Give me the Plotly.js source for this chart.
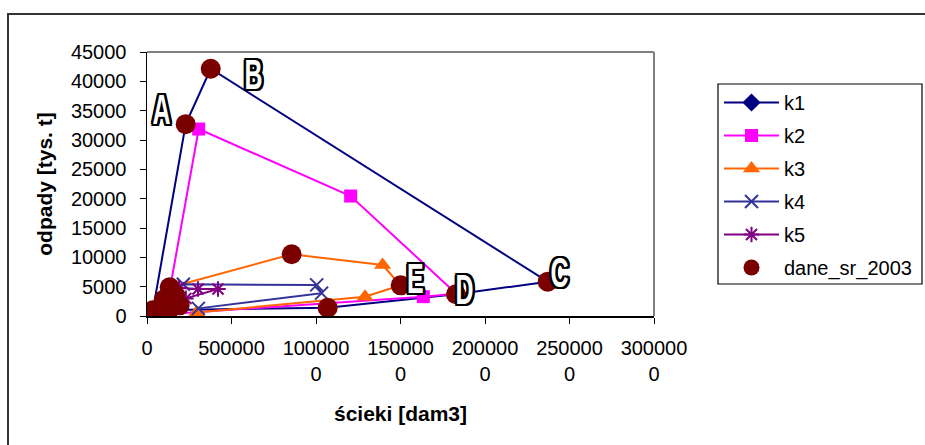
<!DOCTYPE html>
<html>
<head>
<meta charset="utf-8">
<script src="https://cdn.plot.ly/plotly-3.0.1.min.js"></script>
<style>
html,body{margin:0;padding:0;background:#fff;overflow:hidden;}
#chart{width:925px;height:445px;}
</style>
</head>
<body>
<div id="chart"></div>
<script>
// ---- data ----
const xTickVals = [0, 500000, 1000000, 1500000, 2000000, 2500000, 3000000];
const xTickText = ["0", "500000", "100000<br>0", "150000<br>0", "200000<br>0", "250000<br>0", "300000<br>0"];

const k1X = [35000, 229000, 377000, 2371000, 1828000, 1069000, 35000];
const k1Y = [970, 32700, 42150, 5850, 3700, 1400, 970];

const k2X = [110000, 306000, 1205000, 1830000, 1635000, 110000];
const k2Y = [500, 31870, 20450, 3800, 3300, 300];

const k3X = [150000, 856000, 1394000, 1501000, 1290000, 294000];
const k3Y = [5000, 10520, 8690, 5230, 3290, 600];

const k4X = [130000, 215000, 1004000, 1033000, 304000];
const k4Y = [4600, 5400, 5300, 3900, 1300];

const k5X = [190000, 302000, 420000, 230000];
const k5Y = [4800, 4600, 4600, 3000];

const daneX = [229000, 377000, 2371000, 1828000, 1501000, 856000, 1069000, 134000, 35000, 193000, 95000, 77000, 166000, 123000, 100000];
const daneY = [32700, 42150, 5850, 3700, 5230, 10520, 1400, 4900, 970, 1820, 1900, 700, 3600, 700, 2800];

const labelText = ["A", "B", "C", "D", "E"];
const labelX = [85800, 630000, 2443700, 1881600, 1585800];
const labelY = [35370, 41250, 7500, 4520, 6430];

// ---- traces ----
const FONT = "Liberation Sans, Arial, sans-serif";
function line(name, x, y, color, symbol, size, open) {
  const marker = {symbol: symbol, size: size, color: color};
  if (open) marker.line = {color: color, width: 2};
  return {type: "scatter", mode: "lines+markers", name: name, x: x, y: y,
          line: {color: color, width: 2}, marker: marker, legendgroup: name, cliponaxis: true};
}
const traces = [
  line("k1", k1X, k1Y, "#000080", "diamond", 14, false),
  line("k2", k2X, k2Y, "#FF00FF", "square", 13, false),
  line("k3", k3X, k3Y, "#FF6600", "triangle-up", 15, false),
  line("k4", k4X, k4Y, "#333399", "x-thin-open", 13, true),
  line("k5", k5X, k5Y, "#800080", "asterisk-open", 13, true),
  {type: "scatter", mode: "markers", name: "dane_sr_2003", x: daneX, y: daneY, legendgroup: "dane",
   marker: {symbol: "circle", size: 20, color: "#7A0000"}}
];

const outline = "-3px -1.5px 0 #000, 3px -1.5px 0 #000, -3px 1.5px 0 #000, 3px 1.5px 0 #000, 0 2px 0 #000, 3.5px 0 0 #000, 0 -2px 0 #000, -3.5px 0 0 #000";
const annotations = labelText.map((t, i) => ({
  x: labelX[i], y: labelY[i], xref: "x", yref: "y", text: "<b>" + t + "</b>", showarrow: false,
  xanchor: "center", yanchor: "middle",
  font: {family: FONT, size: 43, color: "#fff", shadow: outline}
}));

// helpers: pixel -> paper
const L = 147, R = 654, T = 52, B = 316;
const px = v => (v - L) / (R - L);
const py = v => (B - v) / (B - T);

const layout = {
  width: 925, height: 445,
  margin: {l: L, r: 925 - R, t: T, b: 445 - B, pad: 0, autoexpand: false},
  paper_bgcolor: "#fff", plot_bgcolor: "#fff",
  font: {family: FONT, size: 20, color: "#000"},
  showlegend: true,
  legend: {x: px(719), y: py(83), xanchor: "left", yanchor: "top", bgcolor: "rgba(0,0,0,0)",
           borderwidth: 0, font: {family: FONT, size: 20, color: "#000"},
           tracegroupgap: 4, itemwidth: 55, itemsizing: "trace"},
  xaxis: {range: [0, 3000000], tickmode: "array", tickvals: xTickVals, ticktext: xTickText,
          showgrid: false, zeroline: false, showline: true, linecolor: "#000", linewidth: 1.5,
          ticks: "outside", ticklen: 6, tickcolor: "#000", tickwidth: 1, ticklabelstandoff: 7,
          tickfont: {family: FONT, size: 20, color: "#000"},
          title: {text: "<b>ścieki [dam3]</b>", font: {family: FONT, size: 21, color: "#000"}, standoff: 23},
          automargin: false, fixedrange: true},
  yaxis: {range: [0, 45000], tickmode: "linear", tick0: 0, dtick: 5000, tickformat: "d",
          showgrid: false, zeroline: false, showline: true, linecolor: "#000", linewidth: 1.5,
          ticks: "outside", ticklen: 6, tickcolor: "#000", tickwidth: 1, ticklabelstandoff: 9,
          tickfont: {family: FONT, size: 20, color: "#000"},
          title: {text: "<b>odpady [tys. t]</b>", font: {family: FONT, size: 21, color: "#000"}, standoff: 12},
          automargin: false, fixedrange: true},
  shapes: [
    {type: "line", xref: "paper", yref: "paper", x0: 0, x1: 1, y0: 1, y1: 1, line: {color: "#808080", width: 2}},
    {type: "line", xref: "paper", yref: "paper", x0: 1, x1: 1, y0: 0, y1: 1, line: {color: "#808080", width: 2}},
    {type: "rect", xref: "paper", yref: "paper", x0: px(718), x1: px(922), y0: py(284), y1: py(84),
     line: {color: "#000", width: 1.2}, fillcolor: "rgba(0,0,0,0)"},
    {type: "rect", xref: "paper", yref: "paper", x0: px(8), x1: px(935), y0: py(455), y1: py(14),
     line: {color: "#333", width: 2}, fillcolor: "rgba(0,0,0,0)"}
  ],
  annotations: annotations
};

Plotly.newPlot("chart", traces, layout, {displayModeBar: false, staticPlot: true}).then(gd => {
  // condense the big outlined letters horizontally (they are tall, narrow letters in the reference)
  gd.querySelectorAll("text.annotation-text").forEach(t => {
    const b = t.getBBox();
    const cx = b.x + b.width / 2;
    t.setAttribute("transform", "translate(" + cx + ",0) scale(0.58,1) translate(" + (-cx) + ",0)");
  });
});
</script>
</body>
</html>
